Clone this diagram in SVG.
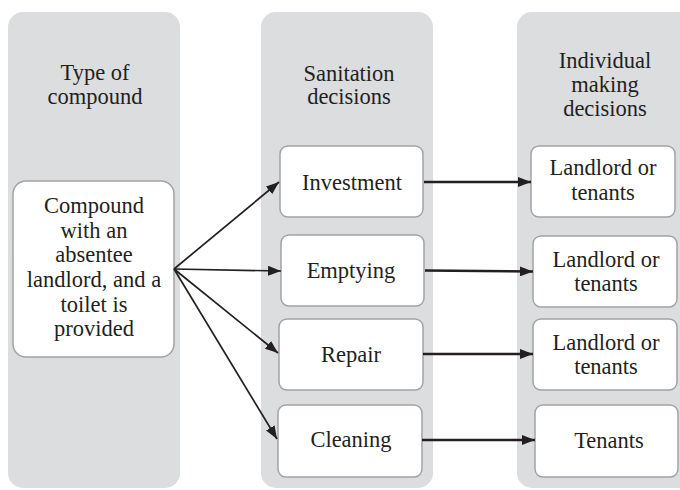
<svg xmlns="http://www.w3.org/2000/svg" width="680" height="490" viewBox="0 0 680 490">
<defs>
<style>
.col{fill:#dcdddf;}
.box{fill:#ffffff;stroke:#a3a3a5;stroke-width:1.5;}
.t{font-family:"Liberation Serif","Times New Roman","DejaVu Serif",serif;font-size:22.5px;fill:#231f20;text-anchor:middle;}
.c{fill:none;stroke:#231f20;}
.d{stroke-width:1.7;}
.h{stroke-width:2.6;}
</style>
<marker id="ah" viewBox="0 0 13 10" refX="13" refY="5" markerWidth="13" markerHeight="10" markerUnits="userSpaceOnUse" orient="auto">
<path d="M0,0 L13,5 L0,10 Z" fill="#231f20"/>
</marker>
</defs>
<rect width="680" height="490" fill="#ffffff"/>
<g id="columns">
<rect class="col" x="8" y="12" width="172" height="476" rx="15"/>
<rect class="col" x="261" y="12" width="172" height="476" rx="15"/>
<rect class="col" x="517" y="12" width="180" height="476" rx="15"/>
</g>
<g id="col-headers">
<text class="t" x="95" y="80">Type of</text>
<text class="t" x="95" y="104">compound</text>
<text class="t" x="349" y="81">Sanitation</text>
<text class="t" x="349" y="104">decisions</text>
<text class="t" x="605" y="68">Individual</text>
<text class="t" x="605" y="92">making</text>
<text class="t" x="605" y="116">decisions</text>
</g>
<g id="compound">
<rect class="box" x="13" y="181" width="161" height="176" rx="13"/>
<text class="t" x="94" y="213">Compound</text>
<text class="t" x="94" y="238">with an</text>
<text class="t" x="94" y="262">absentee</text>
<text class="t" x="94" y="287">landlord, and a</text>
<text class="t" x="94" y="312">toilet is</text>
<text class="t" x="94" y="336">provided</text>
</g>
<g id="investment">
<rect class="box" x="280" y="146" width="143" height="71" rx="8"/>
<text class="t" x="352" y="190">Investment</text>
</g>
<g id="emptying">
<rect class="box" x="281" y="235" width="143" height="71" rx="8"/>
<text class="t" x="351" y="278">Emptying</text>
</g>
<g id="repair">
<rect class="box" x="279" y="319" width="144" height="71" rx="8"/>
<text class="t" x="351" y="362">Repair</text>
</g>
<g id="cleaning">
<rect class="box" x="278" y="405" width="144" height="72" rx="8"/>
<text class="t" x="351" y="447">Cleaning</text>
</g>
<g id="who-investment">
<rect class="box" x="531" y="146" width="144" height="71" rx="8"/>
<text class="t" x="603" y="175">Landlord or</text>
<text class="t" x="603" y="200">tenants</text>
</g>
<g id="who-emptying">
<rect class="box" x="533" y="236" width="144" height="71" rx="8"/>
<text class="t" x="606" y="267">Landlord or</text>
<text class="t" x="606" y="291">tenants</text>
</g>
<g id="who-repair">
<rect class="box" x="533" y="319" width="144" height="71" rx="8"/>
<text class="t" x="606" y="350">Landlord or</text>
<text class="t" x="606" y="374">tenants</text>
</g>
<g id="who-cleaning">
<rect class="box" x="535" y="405" width="143" height="72" rx="8"/>
<text class="t" x="609" y="448">Tenants</text>
</g>
<g id="connectors">
<line class="c d" x1="174" y1="269" x2="279" y2="182" marker-end="url(#ah)"/>
<line class="c d" x1="174" y1="269" x2="281" y2="271" marker-end="url(#ah)"/>
<line class="c d" x1="174" y1="269" x2="278" y2="353" marker-end="url(#ah)"/>
<line class="c d" x1="174" y1="269" x2="277" y2="439" marker-end="url(#ah)"/>
<line class="c h" x1="424" y1="182" x2="531" y2="182" marker-end="url(#ah)"/>
<line class="c h" x1="425" y1="270.5" x2="533" y2="271.5" marker-end="url(#ah)"/>
<line class="c h" x1="423" y1="354" x2="533" y2="354" marker-end="url(#ah)"/>
<line class="c h" x1="422" y1="440" x2="535" y2="440" marker-end="url(#ah)"/>
</g>
</svg>
